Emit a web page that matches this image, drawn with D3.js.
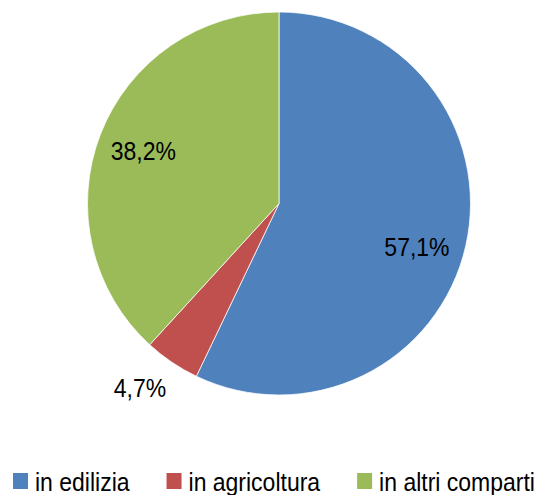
<!DOCTYPE html>
<html>
<head>
<meta charset="utf-8">
<script src="https://cdn.jsdelivr.net/npm/d3@7"></script>
<style>
  body { margin: 0; background: #fff; }
  svg text { font-family: "Liberation Sans", Arial, sans-serif; fill: #000; }
</style>
</head>
<body>
<div id="chart"></div>
<script>
// Data for the chart
const categories = ["in edilizia", "in agricoltura", "in altri comparti"];
const values = [57.1, 4.7, 38.2];
const colors = ["#4F81BD", "#C0504D", "#9BBB59"];

const width = 554, height = 495;
const cx = 279, cy = 203.5, radius = 191.5;
const stretch = 1.1; // reference text looks vertically stretched

const svg = d3.select("#chart").append("svg")
    .attr("width", width)
    .attr("height", height);

const data = categories.map((c, i) => ({ name: c, value: values[i], color: colors[i] }));

const pie = d3.pie().sort(null).value(d => d.value);
const arc = d3.arc().innerRadius(0).outerRadius(radius);
const labelArc = d3.arc().innerRadius(radius * 0.76).outerRadius(radius * 0.76);
const outerArc = d3.arc().innerRadius(radius * 1.09).outerRadius(radius * 1.09);

const g = svg.append("g").attr("transform", `translate(${cx},${cy})`);

const arcs = pie(data);

g.selectAll("path")
    .data(arcs)
    .enter().append("path")
    .attr("d", arc)
    .attr("fill", d => d.data.color)
    .attr("stroke", "#fff")
    .attr("stroke-width", 0.75);

// Percentage labels: big slices inside, small ones outside (like "best fit")
const fmt = v => v.toFixed(1).replace(".", ",") + "%";

g.selectAll("text.label")
    .data(arcs)
    .enter().append("text")
    .attr("class", "label")
    .each(function(d) {
        const t = d3.select(this).style("font-size", "23px").text(fmt(d.data.value));
        if (d.data.value < 10) {
            const [x, y] = outerArc.centroid(d);
            const left = x < 0;
            t.attr("text-anchor", left ? "end" : "start")
             .attr("transform", `translate(${x + (left ? 4 : -4)},${y + 20}) scale(1,${stretch})`);
        } else {
            let [x, y] = labelArc.centroid(d);
            // Excel pushes the right-hand label a little lower
            if (x > 0) { x -= 4; y += 11; }
            t.attr("text-anchor", "middle")
             .attr("dy", "0.36em")
             .attr("transform", `translate(${x},${y}) scale(1,${stretch})`);
        }
    });

// Legend
const legend = svg.append("g");
let lx = 13;
data.forEach(d => {
    const item = legend.append("g");
    item.append("rect")
        .attr("x", lx)
        .attr("y", 473)
        .attr("width", 15)
        .attr("height", 16)
        .attr("fill", d.color);
    const t = item.append("text")
        .attr("transform", `translate(${lx + 22},490.5) scale(1,${stretch})`)
        .style("font-size", "23px")
        .text(d.name);
    lx += 22 + t.node().getComputedTextLength() + 37;
});
</script>
</body>
</html>
